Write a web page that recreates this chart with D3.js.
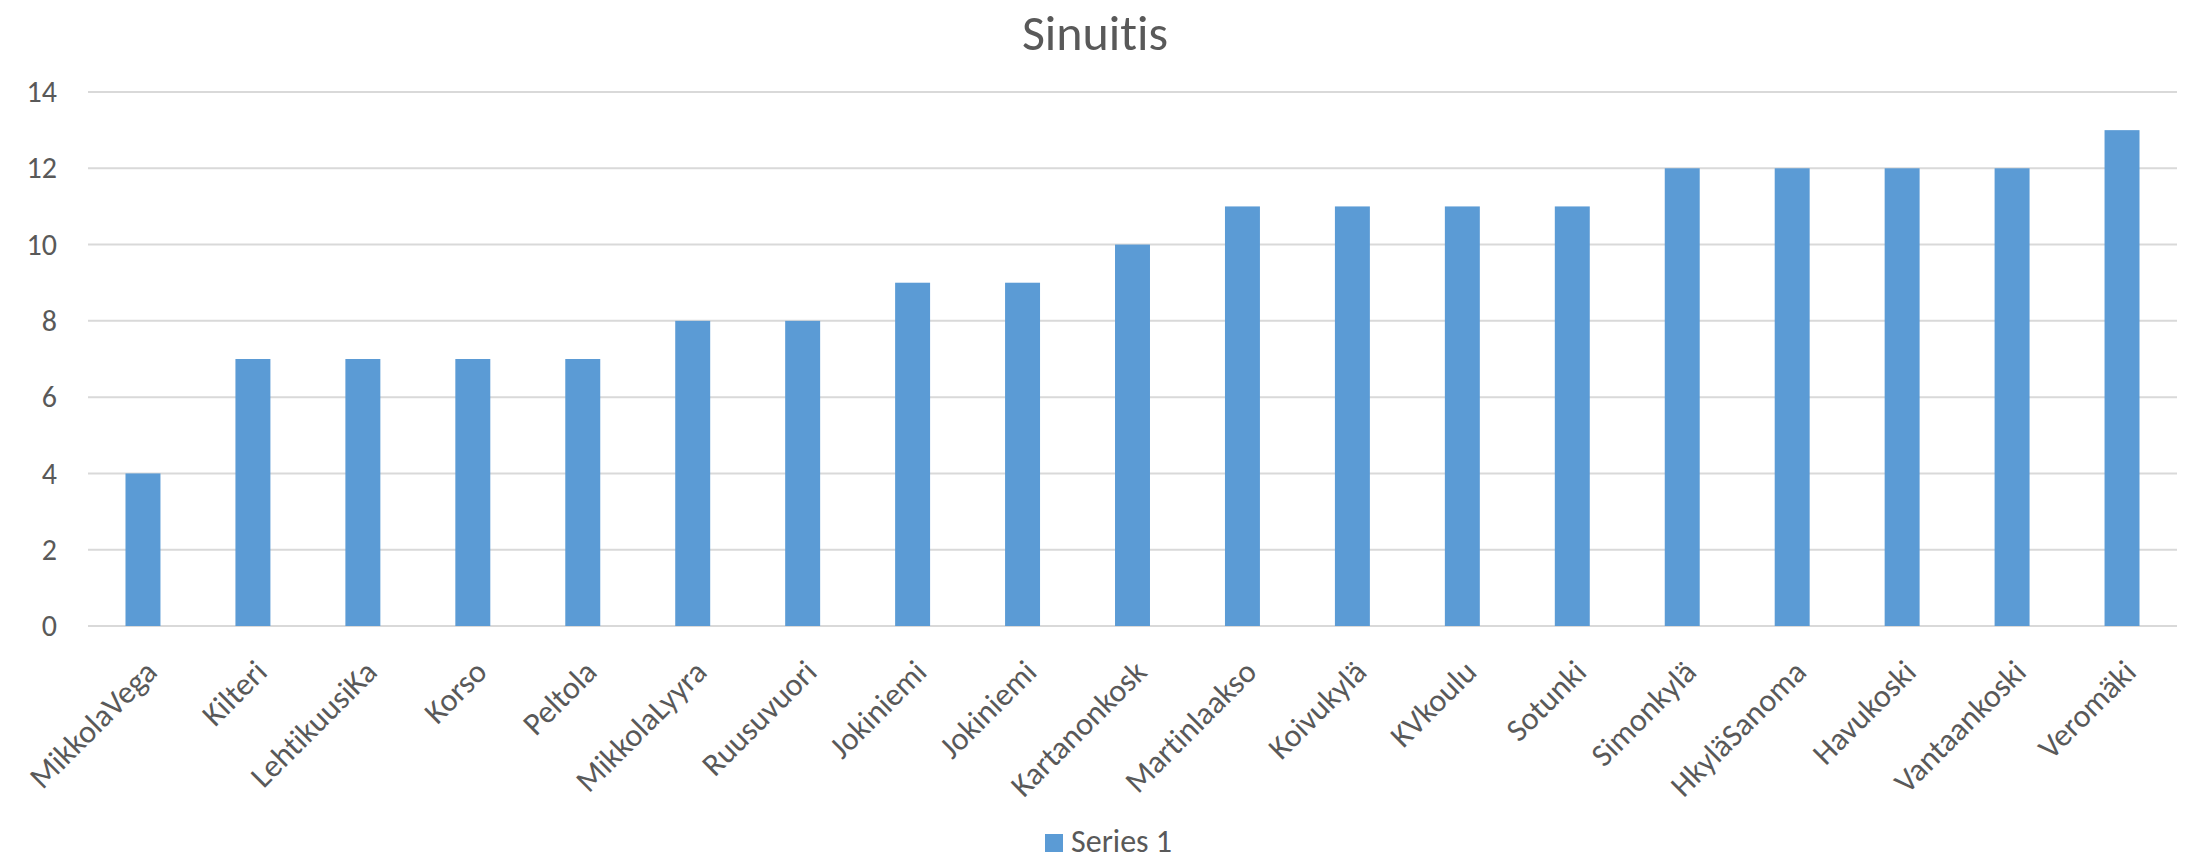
<!DOCTYPE html>
<html>
<head>
<meta charset="utf-8">
<script src="https://cdn.jsdelivr.net/npm/d3@7"></script>
<style>
  body { margin: 0; background: #fff; }
  text { font-family: Carlito, Calibri, Lato, sans-serif; fill: #595959; font-variant-ligatures: none; }
</style>
</head>
<body>
<div id="chart"></div>
<script>
const categories = ["MikkolaVega", "Kilteri", "LehtikuusiKa", "Korso", "Peltola", "MikkolaLyyra",
    "Ruusuvuori", "Jokiniemi", "Jokiniemi ", "Kartanonkosk", "Martinlaakso", "Koivukylä",
    "KVkoulu", "Sotunki", "Simonkylä", "HkyläSanoma", "Havukoski", "Vantaankoski", "Veromäki"]
const values = [4, 7, 7, 7, 7, 8, 8, 9, 9, 10, 11, 11, 11, 11, 12, 12, 12, 12, 13]
const yTicks = [0, 2, 4, 6, 8, 10, 12, 14]
const seriesName = "Series 1"
const chartTitle = "Sinuitis"

const width = 2190
let dimensions = {
    width: width,
    height: 860,
    margin: {
        top: 92,
        right: 13,
        bottom: 234,
        left: 88,
    },
}
dimensions.boundedWidth = dimensions.width - dimensions.margin.left - dimensions.margin.right
dimensions.boundedHeight = dimensions.height - dimensions.margin.top - dimensions.margin.bottom

const svg = d3.select("#chart")
    .append("svg")
    .attr("width", dimensions.width)
    .attr("height", dimensions.height)

const bounds = svg.append("g")
    .attr("transform", `translate(${dimensions.margin.left}, ${dimensions.margin.top})`)

// scales
const xScale = d3.scaleBand()
    .domain(d3.range(categories.length))
    .range([0, dimensions.boundedWidth])
    .paddingInner(0.682)
    .paddingOuter(0.341)

const yScale = d3.scaleLinear()
    .domain([0, 14])
    .range([dimensions.boundedHeight, 0])

// gridlines
bounds.append("g")
    .selectAll("line")
    .data(yTicks)
    .join("line")
    .attr("x1", 0)
    .attr("x2", dimensions.boundedWidth)
    .attr("y1", d => yScale(d))
    .attr("y2", d => yScale(d))
    .attr("stroke", "#d9d9d9")
    .attr("stroke-width", 2)

// y axis labels
const yAxis = bounds.append("g")
    .call(d3.axisLeft(yScale).tickValues(yTicks).tickSize(0).tickPadding(31))
yAxis.select(".domain").remove()
yAxis.selectAll("text")
    .style("font-size", "30px")
    .attr("fill", "#595959")

// bars
bounds.append("g")
    .selectAll("rect")
    .data(values)
    .join("rect")
    .attr("x", (d, i) => xScale(i))
    .attr("y", d => yScale(d))
    .attr("width", xScale.bandwidth())
    .attr("height", d => dimensions.boundedHeight - yScale(d))
    .attr("fill", "#5b9bd5")

// x labels
bounds.append("g")
    .selectAll("text")
    .data(categories)
    .join("text")
    .attr("transform", (d, i) => `translate(${xScale(i) + xScale.bandwidth() / 2 + 8}, ${dimensions.boundedHeight + 40}) rotate(-45)`)
    .attr("dy", "0.35em")
    .attr("text-anchor", "end")
    .style("font-size", "32px")
    .text(d => d.trim())

// title
svg.append("text")
    .attr("x", dimensions.width / 2)
    .attr("y", 50)
    .attr("text-anchor", "middle")
    .style("font-size", "50px")
    .text(chartTitle)

// legend
const legend = svg.append("g")
legend.append("rect")
    .attr("x", 1045)
    .attr("y", 834)
    .attr("width", 18)
    .attr("height", 18)
    .attr("fill", "#5b9bd5")
legend.append("text")
    .attr("x", 1071)
    .attr("y", 852)
    .style("font-size", "32px")
    .text(seriesName)
</script>
</body>
</html>
